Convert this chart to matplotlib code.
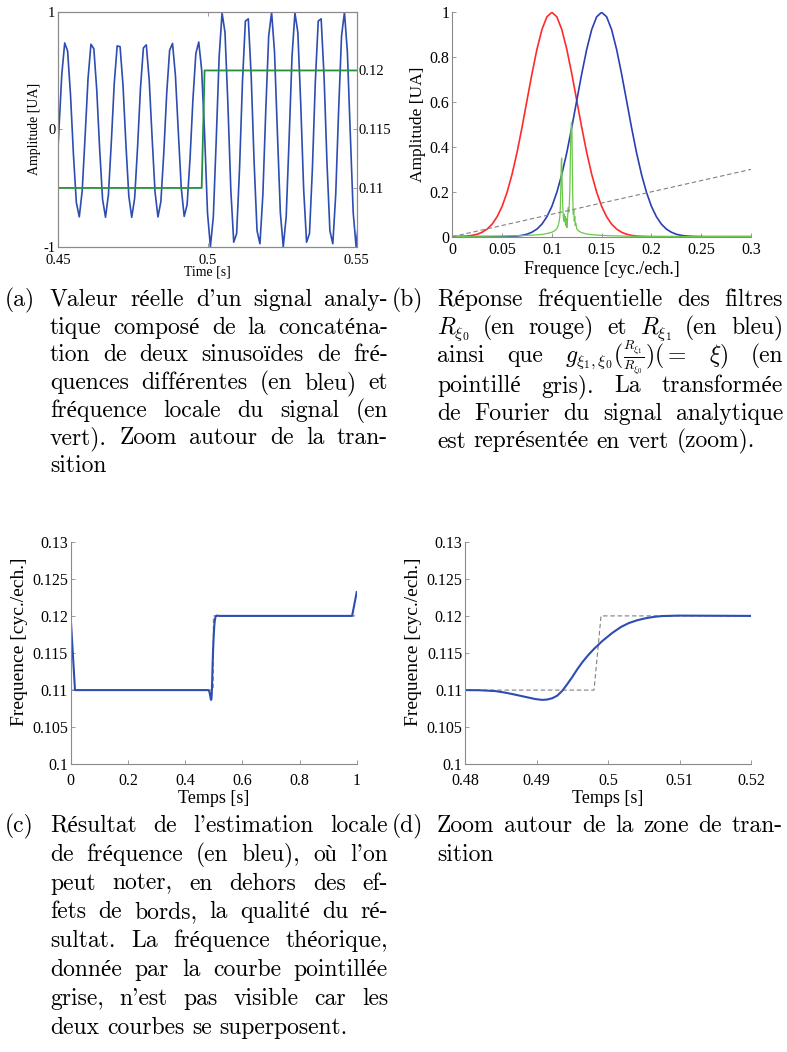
import numpy as np
import matplotlib
matplotlib.use("Agg")
import matplotlib.pyplot as plt
from matplotlib.transforms import IdentityTransform

# ---------------------------------------------------------------- data
# (a) real part of the analytic signal, sampled at 1024 Hz, samples n = 460..564
FS = 1024.0
SIG_N0 = 460
SIG_VALUES = [
    -0.489, -0.014, 0.467, 0.734, 0.664, 0.289, -0.218, -0.626, -0.746, -0.524,
    -0.061, 0.429, 0.723, 0.685, 0.332, -0.173, -0.598, -0.749, -0.556, -0.108,
    0.390, 0.709, 0.702, 0.374, -0.127, -0.569, -0.750, -0.587, -0.154, 0.349,
    0.692, 0.718, 0.416, -0.077, -0.535, -0.747, -0.616, -0.203, 0.304, 0.671,
    0.730, 0.454, -0.030, -0.501, -0.742, -0.643, -0.253, 0.253, 0.644, 0.742,
    0.503,
    -0.038, -0.712, -1.000, -0.746, -0.088, 0.618, 0.989, 0.824, 0.212, -0.514,
    -0.962, -0.888, -0.333, 0.403, 0.920, 0.939, 0.448, -0.285, -0.864, -0.975,
    -0.557, 0.163, 0.794, 0.995, 0.657, -0.038, -0.711, -1.000, -0.746, -0.088,
    0.618, 0.989, 0.824, 0.212, -0.514, -0.962, -0.888, -0.333, 0.403, 0.920,
    0.939, 0.448, -0.285, -0.864, -0.975, -0.557, 0.163, 0.794, 0.995, 0.657,
    -0.038, -0.711, -1.000, -0.746,
]
# (a) local frequency of the signal (green, right axis)
FREQ_A_T = [0.45, 0.498047, 0.499023, 0.55]
FREQ_A_V = [0.11, 0.11, 0.12, 0.12]

# (b) filter responses on a 0..0.3 grid (step 0.005)
RED_VALUES = [
    0.0003, 0.0007, 0.0015, 0.003, 0.006, 0.011, 0.020, 0.034, 0.056, 0.089,
    0.135, 0.198, 0.278, 0.375, 0.487, 0.607, 0.726, 0.835, 0.923, 0.980,
    1.000, 0.980, 0.923, 0.835, 0.726, 0.607, 0.487, 0.375, 0.278, 0.198,
    0.135, 0.089, 0.056, 0.034, 0.020, 0.011, 0.006, 0.003, 0.0015, 0.0007,
    0.0003, 0, 0, 0, 0, 0, 0, 0, 0, 0,
    0, 0, 0, 0, 0, 0, 0, 0, 0, 0, 0,
]
BLUE_VALUES = [
    0, 0, 0, 0, 0, 0, 0, 0, 0, 0,
    0.0003, 0.0007, 0.0015, 0.003, 0.006, 0.011, 0.020, 0.034, 0.056, 0.089,
    0.135, 0.198, 0.278, 0.375, 0.487, 0.607, 0.726, 0.835, 0.923, 0.980,
    1.000, 0.980, 0.923, 0.835, 0.726, 0.607, 0.487, 0.375, 0.278, 0.198,
    0.135, 0.089, 0.056, 0.034, 0.020, 0.011, 0.006, 0.003, 0.0015, 0.0007,
    0.0003, 0, 0, 0, 0, 0, 0, 0, 0, 0, 0,
]
# (b) Fourier transform of the analytic signal (green, zoom)
GREEN_F = [0.0, 0.03, 0.05, 0.07, 0.08, 0.09, 0.095, 0.100, 0.103, 0.105,
           0.106, 0.107, 0.108, 0.1085, 0.109, 0.1095, 0.1098, 0.1101, 0.1105, 0.111,
           0.1115, 0.112, 0.1125, 0.113, 0.1135, 0.114, 0.1145, 0.115, 0.1155, 0.116,
           0.1165, 0.117, 0.1175, 0.118, 0.1185, 0.119, 0.1195, 0.1198, 0.1202, 0.1206,
           0.121, 0.1215, 0.122, 0.1225, 0.123, 0.1235, 0.124, 0.125, 0.127, 0.130,
           0.135, 0.140, 0.150, 0.160, 0.180, 0.200, 0.250, 0.300]
GREEN_A = [0.001, 0.002, 0.003, 0.005, 0.007, 0.010, 0.014, 0.020, 0.027, 0.036,
           0.045, 0.060, 0.090, 0.130, 0.220, 0.330, 0.350, 0.300, 0.200, 0.130,
           0.090, 0.070, 0.100, 0.065, 0.090, 0.050, 0.080, 0.040, 0.060, 0.100,
           0.130, 0.110, 0.140, 0.200, 0.320, 0.450, 0.500, 0.510, 0.460, 0.300,
           0.170, 0.100, 0.120, 0.070, 0.090, 0.050, 0.060, 0.035, 0.025, 0.018,
           0.012, 0.009, 0.006, 0.004, 0.002, 0.001, 0.0005, 0.0003]
# (b) g(R1/R0) = xi (grey dashed)
DIAG_F = [0.0, 0.3]
DIAG_V = [0.0, 0.3]

# (d) estimated local frequency around the transition
D_T = [0.4800, 0.4820, 0.4842, 0.4855, 0.4866, 0.4878, 0.4889, 0.4898, 0.4908, 0.4915,
       0.4922, 0.4929, 0.4936, 0.4943, 0.4950, 0.4957, 0.4964, 0.4972, 0.4980, 0.4992,
       0.5006, 0.5018, 0.5029, 0.5041, 0.5053, 0.5065, 0.5076, 0.5099, 0.5146, 0.5200]
D_V = [0.11000, 0.10998, 0.10987, 0.10968, 0.10947, 0.10922, 0.10899, 0.10880, 0.10868, 0.10873,
       0.10890, 0.10925, 0.10990, 0.11080, 0.11176, 0.11280, 0.11374, 0.11468, 0.11551, 0.11661,
       0.11771, 0.11850, 0.11903, 0.11942, 0.11969, 0.11988, 0.11998, 0.12004, 0.12002, 0.12000]
# theoretical frequency (grey dashed)
THEO_T = [0.0, 0.498047, 0.499023, 1.0]
THEO_V = [0.11, 0.11, 0.12, 0.12]
# (c) estimated local frequency over the whole signal
C_T = [0.0, 0.015] + D_T + [0.984, 1.0]
C_V = [0.1198, 0.1100] + D_V + [0.1200, 0.1232]

# ---------------------------------------------------------------- style
W, H = 787, 1052
PLOT_FONT = "Liberation Serif"
CAP_FONT = ["cmr10", "Liberation Serif"]
plt.rcParams["font.family"] = PLOT_FONT
plt.rcParams["mathtext.fontset"] = "cm"
plt.rcParams["axes.unicode_minus"] = False

SPINE = "#8a8a8a"
BLUE = "#2d4db0"
GREEN = "#23913a"
RED = "#ff2a2a"
BLUE_B = "#2b3fb3"
LGREEN = "#6cc84c"
GREY = "#808080"


def rect(l, r, t, b):
    return [l / W, 1 - b / H, (r - l) / W, (b - t) / H]


def style(ax, box, fs, xpad=4):
    for s in ax.spines.values():
        s.set_color(SPINE)
        s.set_linewidth(0.8)
    if not box:
        ax.spines["top"].set_visible(False)
        ax.spines["right"].set_visible(False)
    ax.tick_params(direction="in", length=3, width=0.6, color=SPINE,
                   labelsize=fs, pad=2, top=box, right=False)
    ax.tick_params(axis="x", pad=xpad)


fig = plt.figure(figsize=(W / 100, H / 100), dpi=100)

# ---------------- (a)
ax = fig.add_axes(rect(58.3, 356.7, 11.7, 246.7))
t_a = (SIG_N0 + np.arange(len(SIG_VALUES))) / FS
ax.plot(t_a, SIG_VALUES, color=BLUE, lw=1.2)
ax.set_xlim(0.45, 0.55)
ax.set_ylim(-1, 1)
ax.set_xticks([0.45, 0.5, 0.55], labels=["0.45", "0.5", "0.55"])
ax.set_yticks([-1, 0, 1], labels=["-1", "0", "1"])
style(ax, True, 10.5, xpad=5)
ax.set_ylabel("Amplitude [UA]", fontsize=10)
ax.yaxis.set_label_coords((41 - 58.3) / 298.4, 0.5)
ax.set_xlabel("Time [s]", fontsize=10)
ax.xaxis.set_label_coords(0.5, (246.7 - 266) / 235)
ax2 = ax.twinx()
ax2.plot(FREQ_A_T, FREQ_A_V, color=GREEN, lw=1.3)
ax2.set_ylim(0.105, 0.125)
ax2.set_yticks([0.11, 0.115, 0.12], labels=["0.11", "0.115", "0.12"])
for s in ax2.spines.values():
    s.set_color(SPINE)
    s.set_linewidth(0.8)
ax2.tick_params(direction="in", length=3, width=0.6, color=SPINE, labelsize=10.5, pad=1)

# ---------------- (b)
bx = fig.add_axes(rect(452.3, 751, 12.3, 236.7))
freq_grid = np.linspace(0, 0.3, len(RED_VALUES))
bx.plot(freq_grid, RED_VALUES, color=RED, lw=1.2)
bx.plot(freq_grid, BLUE_VALUES, color=BLUE_B, lw=1.2)
bx.plot(GREEN_F, GREEN_A, color=LGREEN, lw=0.9)
bx.plot(DIAG_F, DIAG_V, color=GREY, lw=0.8, ls=(0, (4, 2.5)))
bx.set_xlim(0, 0.3)
bx.set_ylim(0, 1)
bx.set_xticks([0, 0.05, 0.1, 0.15, 0.2, 0.25, 0.3],
              labels=["0", "0.05", "0.1", "0.15", "0.2", "0.25", "0.3"])
bx.set_yticks([0, 0.2, 0.4, 0.6, 0.8, 1], labels=["0", "0.2", "0.4", "0.6", "0.8", "1"])
style(bx, False, 11.5)
bx.set_ylabel("Amplitude [UA]", fontsize=12.5)
bx.yaxis.set_label_coords((426 - 452.3) / 298.7, 0.5)
bx.set_xlabel("Frequence [cyc./ech.]", fontsize=13)
bx.xaxis.set_label_coords(0.5, (236.7 - 261) / 224.4)

# ---------------- (c) and (d)
for (l, r), xs, ys, xl, xt, xtl in [
    ((70.7, 356.7), C_T, C_V, (0, 1), [0, 0.2, 0.4, 0.6, 0.8, 1],
     ["0", "0.2", "0.4", "0.6", "0.8", "1"]),
    ((465, 751), D_T, D_V, (0.48, 0.52), [0.48, 0.49, 0.5, 0.51, 0.52],
     ["0.48", "0.49", "0.5", "0.51", "0.52"]),
]:
    cx = fig.add_axes(rect(l, r, 541.7, 764.3))
    cx.plot(THEO_T, THEO_V, color=GREY, lw=0.8, ls=(0, (4, 2.5)))
    cx.plot(xs, ys, color=BLUE, lw=1.5)
    cx.set_xlim(*xl)
    cx.set_ylim(0.1, 0.13)
    cx.set_xticks(xt, labels=xtl)
    cx.set_yticks([0.1, 0.105, 0.11, 0.115, 0.12, 0.125, 0.13],
                  labels=["0.1", "0.105", "0.11", "0.115", "0.12", "0.125", "0.13"])
    style(cx, False, 11.5, xpad=6)
    cx.set_ylabel("Frequence [cyc./ech.]", fontsize=14)
    cx.yaxis.set_label_coords(-43.0 / (r - l), 0.55)
    cx.set_xlabel("Temps [s]", fontsize=13)
    cx.xaxis.set_label_coords(0.5, (764.3 - 790) / 222.6)

# ---------------------------------------------------------------- captions
CAP_FS = 17
FRAC_FS = 14
renderer = fig.canvas.get_renderer()
SPACE_W = CAP_FS * 100 / 72 * 0.333


def caption(label, xl, x0, x1, y0, lines, step, offsets=None):
    """Justified caption lines; words split on spaces, glued pieces on '|'."""
    fig.text(xl, H - y0, label, transform=IdentityTransform(), fontsize=CAP_FS,
             family=CAP_FONT, va="baseline", ha="left")
    for i, (line, just) in enumerate(lines):
        y = H - (y0 + i * step + (offsets[i] if offsets else 0))
        words = []
        for wd in line.split(" "):
            pieces = []
            for pc in wd.split("|"):
                t = fig.text(0, y, pc, transform=IdentityTransform(),
                             fontsize=FRAC_FS if "frac" in pc else CAP_FS,
                             family=CAP_FONT, va="baseline", ha="left")
                pieces.append((t, t.get_window_extent(renderer=renderer).width))
            words.append(pieces)
        widths = [sum(w for _, w in p) for p in words]
        gap = (x1 - x0 - sum(widths)) / (len(words) - 1) if (just and len(words) > 1) else SPACE_W
        x = x0
        for p, wsum in zip(words, widths):
            xx = x
            for t, w in p:
                t.set_x(xx)
                xx += w
            x += wsum + gap


caption("(a)", 5, 50, 388, 306, [
    ("Valeur réelle d'un signal analy-", True),
    ("tique composé de la concaténa-", True),
    ("tion de deux sinusoïdes de fré-", True),
    ("quences différentes (en bleu) et", True),
    ("fréquence locale du signal (en", True),
    ("vert). Zoom autour de la tran-", True),
    ("sition", False),
], 27.7)
caption("(b)", 392, 437, 783, 306, [
    ("Réponse fréquentielle des filtres", True),
    (r"$R_{\xi_0}$ (en rouge) et $R_{\xi_1}$ (en bleu)", True),
    (r"ainsi que $g_{\xi_1,\xi_0}($|$\frac{R_{\xi_1}}{R_{\xi_0}}$|$)(=$ $\xi)$ (en", True),
    ("pointillé gris). La transformée", True),
    ("de Fourier du signal analytique", True),
    ("est représentée en vert (zoom).", False),
], 27.7, offsets=[0, 0, 1, 3, 3, 3])
caption("(c)", 5, 50, 388, 832, [
    ("Résultat de l'estimation locale", True),
    ("de fréquence (en bleu), où l'on", True),
    ("peut noter, en dehors des ef-", True),
    ("fets de bords, la qualité du ré-", True),
    ("sultat. La fréquence théorique,", True),
    ("donnée par la courbe pointillée", True),
    ("grise, n'est pas visible car les", True),
    ("deux courbes se superposent.", False),
], 28.8)
caption("(d)", 392, 437, 783, 832, [
    ("Zoom autour de la zone de tran-", True),
    ("sition", False),
], 28.8)

fig.savefig("out.png", dpi=100)
